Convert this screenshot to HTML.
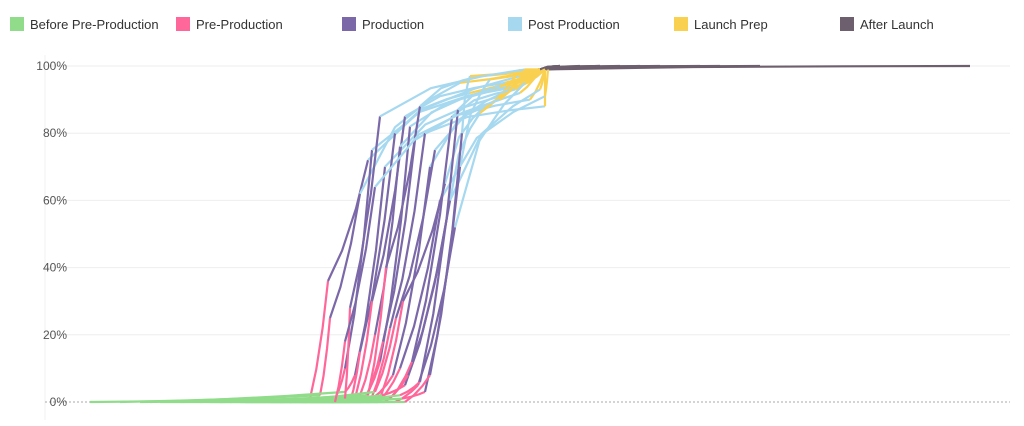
<!DOCTYPE html>
<html><head><meta charset="utf-8"><style>
body{margin:0;background:#fff;font-family:"Liberation Sans",sans-serif;}
svg{display:block}
</style></head><body>
<svg id="chart" width="1024" height="426">
<g id="legend"></g>
<g id="grid"></g>
<g id="series"></g>
</svg>
<script>
const phaseNames=["Before Pre-Production","Pre-Production","Production","Post Production","Launch Prep","After Launch"];
const phaseColors=["#90dc8a","#ff6699","#7b68a8","#a6d8ef","#fad050","#6e5f6e"];
const yTicks=[0,20,40,60,80,100];
const yTickLabels=["0%","20%","40%","60%","80%","100%"];
// each project: [greenStartDay, greenEndDay, greenPct, pinkEndDay, pinkPct, prodEndDay, prodPct, postEndDay, postPct, launchEndDay, afterEndDay]
const projects=[
[45,265,1,283,36,323,72,475,97,500,925],
[75,275,2,285,25,315,62,415,95,495,715],
[95,290,1,300,10,327,75,465,94,495,675],
[105,300,3,310,8,340,70,455,91,493,595],
[115,305,0,315,15,350,80,425,92,495,515],
[135,310,1,327,30,360,85,460,95,495,555],
[155,315,2,330,20,355,76,445,93,495,655],
[165,317,0,335,12,365,82,475,94,500,535],
[175,320,1,338,18,370,78,485,90,500,575],
[185,323,2,341,40,375,88,435,97,495,515],
[195,325,0,345,22,380,80,500,88,500,0],
[205,327,1,348,8,385,70,465,93,495,0],
[215,330,3,351,25,390,75,475,92,495,615],
[225,333,0,355,10,395,60,500,91,503,0],
[235,335,1,358,30,400,65,440,88,485,0],
[245,337,2,360,5,402,55,435,86,475,0],
[255,340,0,363,8,405,60,495,93,500,0],
[260,345,1,367,12,407,85,470,93,495,515],
[265,350,0,373,5,410,52,480,95,495,555],
[270,355,2,375,6,413,87,455,94,500,0],
[275,357,1,380,3,415,70,445,96,495,0],
[285,360,0,385,8,417,80,425,97,495,0],
[245,300,1,305,28,335,85,480,99,495,0],
[200,290,0,300,18,330,64,455,90,480,0]
];
const NS="http://www.w3.org/2000/svg";
const X0=45,X1=1010,Y0=402,Y100=66;
const xs=d=>X0+d*(X1-X0)/965;
const ys=p=>Y0-p*(Y0-Y100)/100;
function mk(tag,parent,attrs){const e=document.createElementNS(NS,tag);for(const k in attrs)e.setAttribute(k,attrs[k]);parent.appendChild(e);return e;}
const legend=document.getElementById('legend');
phaseNames.forEach((n,i)=>{
  const g=mk('g',legend,{});
  
  
  const x=10+i*166;
  mk('rect',g,{x:x,y:17,width:14,height:14,fill:phaseColors[i]});
  const t=mk('text',g,{x:x+20,y:29,'font-size':13,fill:'#333'});t.textContent=n;
});
const grid=document.getElementById('grid');
mk('line',grid,{x1:X0,x2:X0,y1:55,y2:420,stroke:'#f2f2f2'});
yTicks.forEach((v,i)=>{
  const y=ys(v);
  const l=mk('line',grid,{x1:X0,x2:X1,y1:y,y2:y,stroke:v===0?'#aaa':'#eeeeee','stroke-dasharray':v===0?'2,2':'none'});
  
  
  const t=mk('text',grid,{x:67,y:y+4,'font-size':12,fill:'#555','text-anchor':'end'});
  
  
  t.textContent=yTickLabels[i];
});
const series=document.getElementById('series');
projects.forEach((p,j)=>{
  const [gs,ge,gy,pe,py,pre,pry,be,by,ye,ae]=p;
  const segs=[
    [[gs,0],[ge,gy]],
    [[ge,gy],[pe,py]],
    [[pe,py],[pre,pry]],
    [[pre,pry],[be,by]],
    [[be,by],[ye,99]],
    ae?[[ye,99],[ae,100]]:null
  ];
  segs.forEach((s,i)=>{
    if(!s)return;
    const [a,b]=s;
    let f1=0.25,f2=0.6;
    if(i===3){f1=0.6;f2=0.85;}
    if(i===5){f1=0.7;f2=0.9;}
    const m1=[a[0]+(b[0]-a[0])*0.35,a[1]+(b[1]-a[1])*f1];
    const m2=[a[0]+(b[0]-a[0])*0.7,a[1]+(b[1]-a[1])*f2];
    const pts=[a,m1,m2,b].map(q=>xs(q[0]).toFixed(1)+','+ys(q[1]).toFixed(1)).join(' ');
    const pl=mk('polyline',series,{points:pts,fill:'none',stroke:phaseColors[i],'stroke-width':2.2,'stroke-linejoin':'round'});
    
    
  });
});
</script>
</body></html>
